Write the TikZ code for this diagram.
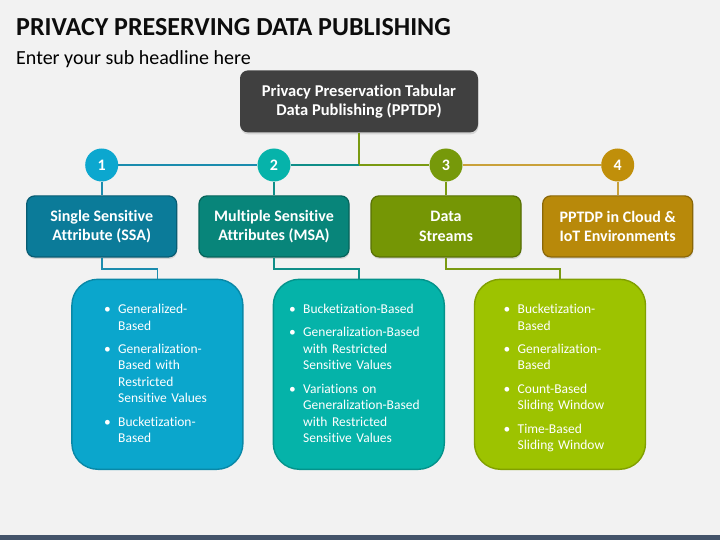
\documentclass[tikz,border=0pt]{standalone}
\usepackage{fontspec}
\setmainfont{Carlito}[Ligatures=NoCommon]
\usetikzlibrary{shadows}
\setlength{\parindent}{0pt}

\definecolor{pagebg}{HTML}{F2F2F2}
\definecolor{bandgray}{HTML}{44546A}
\definecolor{topgray}{HTML}{404040}
\definecolor{dotA}{HTML}{0CA7CF}
\definecolor{dotB}{HTML}{06B3AA}
\definecolor{dotC}{HTML}{76990A}
\definecolor{dotD}{HTML}{C08F0A}
\definecolor{headA}{HTML}{0B7B99}
\definecolor{headB}{HTML}{08857A}
\definecolor{headC}{HTML}{759605}
\definecolor{headD}{HTML}{B8890A}
\definecolor{itemA}{HTML}{0BA6CC}
\definecolor{itemB}{HTML}{05B3A9}
\definecolor{itemC}{HTML}{9DC300}
\definecolor{lineA}{HTML}{1B8CAE}
\definecolor{lineB}{HTML}{0F8E88}
\definecolor{lineC}{HTML}{7A9A12}
\definecolor{lineD}{HTML}{C9A13A}

% one bullet point: dot, then a hanging block of forced lines
\newcommand{\bitem}[1]{\noindent\makebox[14pt][l]{\textbullet}\parbox[t]{136pt}{\raggedright #1\strut}\par\prevdepth=\dp\strutbox\vskip6.8pt}

\tikzset{
  headbox/.style={rectangle, rounded corners=8pt, fill=#1, draw=#1!75!black, line width=1.2pt,
    minimum width=150pt, minimum height=61pt, text=white, align=center,
    font=\bfseries\fontsize{16}{19.3}\selectfont,
    drop shadow={opacity=0.25, shadow xshift=0.5pt, shadow yshift=-2pt}},
  numdot/.style={circle, fill=#1, minimum size=33pt, inner sep=0pt, text=white,
    font=\bfseries\fontsize{16}{16}\selectfont},
  itembox/.style={rectangle, rounded corners=26pt, fill=#1, draw=#1!82!black, line width=1.4pt,
    minimum width=171pt, minimum height=190pt},
  itemlist/.style={anchor=base west, inner sep=0pt, text width=150pt, align=left, text=white,
    font=\fontsize{13.5}{16.5}\selectfont},
  link/.style={line width=1.8pt, draw=#1}
}

\begin{document}
\begin{tikzpicture}[x=1pt, y=-1pt]
    % page
    \fill[pagebg] (0,0) rectangle (720,540);
    \fill[bandgray] (0,534.7) rectangle (720,540);
    \useasboundingbox (0,0) rectangle (720,540);

    \node[anchor=base west, inner sep=0pt, font=\bfseries\fontsize{26}{30}\selectfont, text=black!95] at (16,36) (title) {PRIVACY PRESERVING DATA PUBLISHING};
    \node[anchor=base west, inner sep=0pt, font=\fontsize{20}{24}\selectfont, text=black] at (16,65) (subtitle) {Enter your sub headline here};

    % root
    \node[rectangle, rounded corners=8pt, fill=topgray, minimum width=238pt, minimum height=62pt,
      text=white, align=center, font=\bfseries\fontsize{16.5}{18.5}\selectfont,
      drop shadow={opacity=0.25, shadow xshift=0.5pt, shadow yshift=-2pt}] at (359,101.4) (root)
      {Privacy Preservation Tabular\\Data Publishing (PPTDP)};
    \coordinate (hub) at (359,165);

    % numbers
    \node[numdot=dotA] at (101.7,165) (n1) {1};
    \node[numdot=dotB] at (274,165)   (n2) {2};
    \node[numdot=dotC] at (446,165)   (n3) {3};
    \node[numdot=dotD] at (617.7,165) (n4) {4};

    % categories
    \node[headbox=headA] at (101.7,226.4) (h1) {Single Sensitive\\Attribute (SSA)};
    \node[headbox=headB] at (274,226.4)   (h2) {Multiple Sensitive\\Attributes (MSA)};
    \node[headbox=headC] at (446,226.4)   (h3) {Data\\Streams};
    \node[headbox=headD] at (617.7,226.4) (h4) {PPTDP in Cloud \&\\IoT Environments};

    % detail boxes
    \node[itembox=itemA] at (157.4,374.3) (d1) {};
    \node[itembox=itemB] at (358.8,374.3) (d2) {};
    \node[itembox=itemC] at (560,374.3)   (d3) {};

    \node[itemlist] at (104,313.6) (list1) {%
      \bitem{Generalized-\\Based}%
      \bitem{Generalization-\\Based with\\Restricted\\Sensitive Values}%
      \bitem{Bucketization-\\Based}};
    \node[itemlist] at (289,313.6) (list2) {%
      \bitem{Bucketization-Based}%
      \bitem{Generalization-Based\\with Restricted\\Sensitive Values}%
      \bitem{Variations on\\Generalization-Based\\with Restricted\\Sensitive Values}};
    \node[itemlist] at (503.5,313.6) (list3) {%
      \bitem{Bucketization-\\Based}%
      \bitem{Generalization-\\Based}%
      \bitem{Count-Based\\Sliding Window}%
      \bitem{Time-Based\\Sliding Window}};

    % connectors
    \draw[link=lineC] (root.south) -- (hub);
    \draw[link=lineA] (n1) -- (n2);
    \draw[link=lineB] (n2) -- (hub);
    \draw[link=lineC] (hub) -- (n3);
    \draw[link=lineD] (n3) -- (n4);
    \draw[link=lineA] (n1) -- (h1);
    \draw[link=lineB] (n2) -- (h2);
    \draw[link=lineC] (n3) -- (h3);
    \draw[link=lineD] (n4) -- (h4);
    \draw[link=lineA] (h1.south) -- ++(0,11.3) -| (d1.north);
    \draw[link=lineB] (h2.south) -- ++(0,11.3) -| (d2.north);
    \draw[link=lineC] (h3.south) -- ++(0,11.3) -| (d3.north);
\end{tikzpicture}
\end{document}
